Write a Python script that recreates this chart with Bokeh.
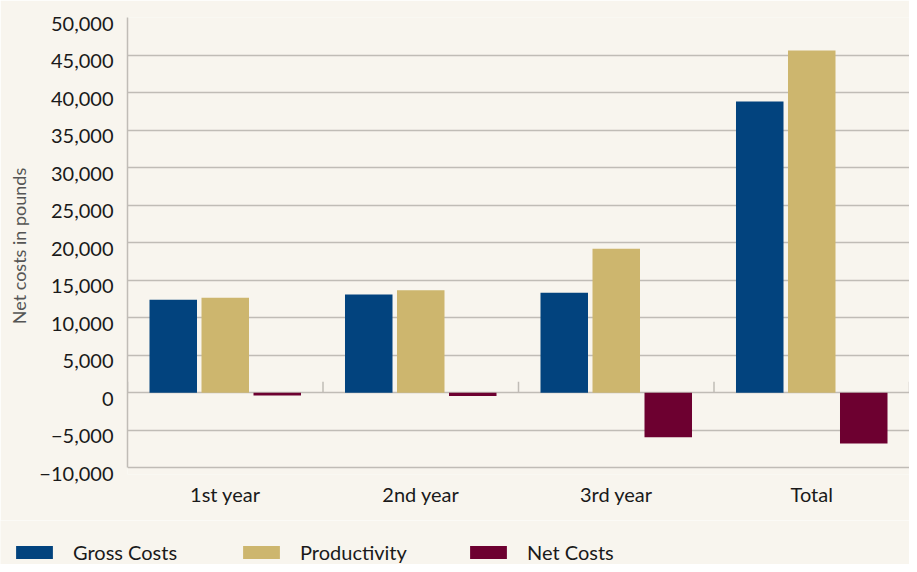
from bokeh.plotting import figure
from bokeh.models import (ColumnDataSource, FactorRange, Range1d, FixedTicker,
                          Legend, LegendItem, LinearAxis)
from bokeh.layouts import column
from bokeh.transform import dodge
from bokeh.embed import file_html
from bokeh.resources import INLINE
import math

categories = ["1st year", "2nd year", "3rd year", "Total"]
gross_costs = [12400, 13100, 13330, 38800]
productivity = [12670, 13650, 19200, 45600]
net_costs = [-360, -450, -5950, -6760]

y_ticks = [-10000, -5000, 0, 5000, 10000, 15000, 20000, 25000, 30000,
           35000, 40000, 45000, 50000]
y_tick_labels = ["\u221210,000", "\u22125,000", "0", "5,000", "10,000", "15,000",
                 "20,000", "25,000", "30,000", "35,000", "40,000", "45,000", "50,000"]

series_names = ["Gross Costs", "Productivity", "Net Costs"]
colors = ["#02437e", "#cdb66e", "#6d0030"]

FONT = "Lato"
BG = "#f8f5ee"
GRID = "#c0bcb6"
TEXT = "#1a1a1a"

src = ColumnDataSource(dict(cat=categories, gross=gross_costs,
                            prod=productivity, net=net_costs))

y0, y1 = y_ticks[0], y_ticks[-1]
bottom_pad = 900      # room under the last grid line for its label
label_shift = 800     # labels sit a little below their grid lines

p = figure(x_range=FactorRange(*categories, range_padding=0),
           y_range=Range1d(y0 - bottom_pad, y1), y_axis_location=None,
           width=909, height=520, output_backend="svg", toolbar_location=None,
           min_border_left=127, min_border_right=0, min_border_top=17,
           min_border_bottom=46)
p.extra_y_ranges = {"lab": Range1d(y0 - bottom_pad + label_shift, y1 + label_shift)}

p.background_fill_color = BG
p.border_fill_color = BG
p.outline_line_color = None

bw = 0.243
off = 0.266
p.vbar(x=dodge("cat", -off, range=p.x_range), top="gross", width=bw,
       source=src, fill_color=colors[0], line_color=None)
p.vbar(x=dodge("cat", 0, range=p.x_range), top="prod", width=bw,
       source=src, fill_color=colors[1], line_color=None)
p.vbar(x=dodge("cat", off, range=p.x_range), top="net", width=bw,
       source=src, fill_color=colors[2], line_color=None)

# category boundary ticks on the zero line
bounds = list(range(len(categories) + 1))
p.ray(x=bounds, y=[0] * len(bounds), length=11, length_units="screen",
      angle=math.pi / 2, line_color=GRID, line_width=1.5)

# y axis line from the lowest to the highest grid line
yline = LinearAxis(ticker=FixedTicker(ticks=[]), bounds=(y0, y1))
yline.axis_line_color = GRID
yline.axis_line_width = 1.5
yline.major_tick_line_color = None
yline.minor_tick_line_color = None
yline.major_label_standoff = 0
yline.major_label_text_font_size = "0px"
p.add_layout(yline, "left")

# y tick labels and title
yax = LinearAxis(y_range_name="lab", ticker=FixedTicker(ticks=y_ticks))
yax.major_label_overrides = {t: l for t, l in zip(y_ticks, y_tick_labels)}
yax.axis_line_color = None
yax.major_tick_line_color = None
yax.minor_tick_line_color = None
yax.major_label_standoff = 8
yax.major_label_text_font = FONT
yax.major_label_text_font_size = "20px"
yax.major_label_text_color = TEXT
yax.axis_label = "Net costs in pounds"
yax.axis_label_text_font = FONT
yax.axis_label_text_font_size = "18px"
yax.axis_label_text_font_style = "normal"
yax.axis_label_text_color = "#555555"
yax.axis_label_standoff = 6
p.add_layout(yax, "left")

p.ygrid.ticker = FixedTicker(ticks=y_ticks)
p.ygrid.grid_line_color = GRID
p.ygrid.grid_line_width = 1.5
p.xgrid.grid_line_color = None

# x axis
p.xaxis.axis_line_color = None
p.xaxis.major_tick_line_color = None
p.xaxis.minor_tick_line_color = None
p.xaxis.major_label_standoff = 1
p.xaxis.major_label_text_font = FONT
p.xaxis.major_label_text_font_size = "20px"
p.xaxis.major_label_text_color = TEXT

# legend strip below the chart
lg = figure(x_range=Range1d(0, 1), y_range=Range1d(0, 1), width=909, height=44,
            x_axis_location=None, y_axis_location=None,
            output_backend="svg", toolbar_location=None,
            min_border_left=0, min_border_right=0,
            min_border_top=0, min_border_bottom=0)
lg.background_fill_color = BG
lg.border_fill_color = BG
lg.outline_line_color = None
lg.grid.visible = False

for fig in (p, lg):
    if "frame_align" in fig.properties():
        fig.frame_align = False

nan = float("nan")
items = []
for name, col in zip(series_names, colors):
    r = lg.vbar(x=[nan], top=[nan], width=0.1, fill_color=col, line_color=None)
    items.append(LegendItem(label=name, renderers=[r]))

legend = Legend(items=items, location=(11, 0), orientation="horizontal",
                glyph_width=46, glyph_height=16, label_height=16,
                label_width=115, label_standoff=16, spacing=50,
                padding=0, margin=0, border_line_color=None,
                background_fill_alpha=0,
                label_text_font=FONT, label_text_font_size="20px",
                label_text_color=TEXT)
lg.add_layout(legend, "center")

layout = column(p, lg, spacing=0)
open("out.html", "w").write(file_html(layout, INLINE))
